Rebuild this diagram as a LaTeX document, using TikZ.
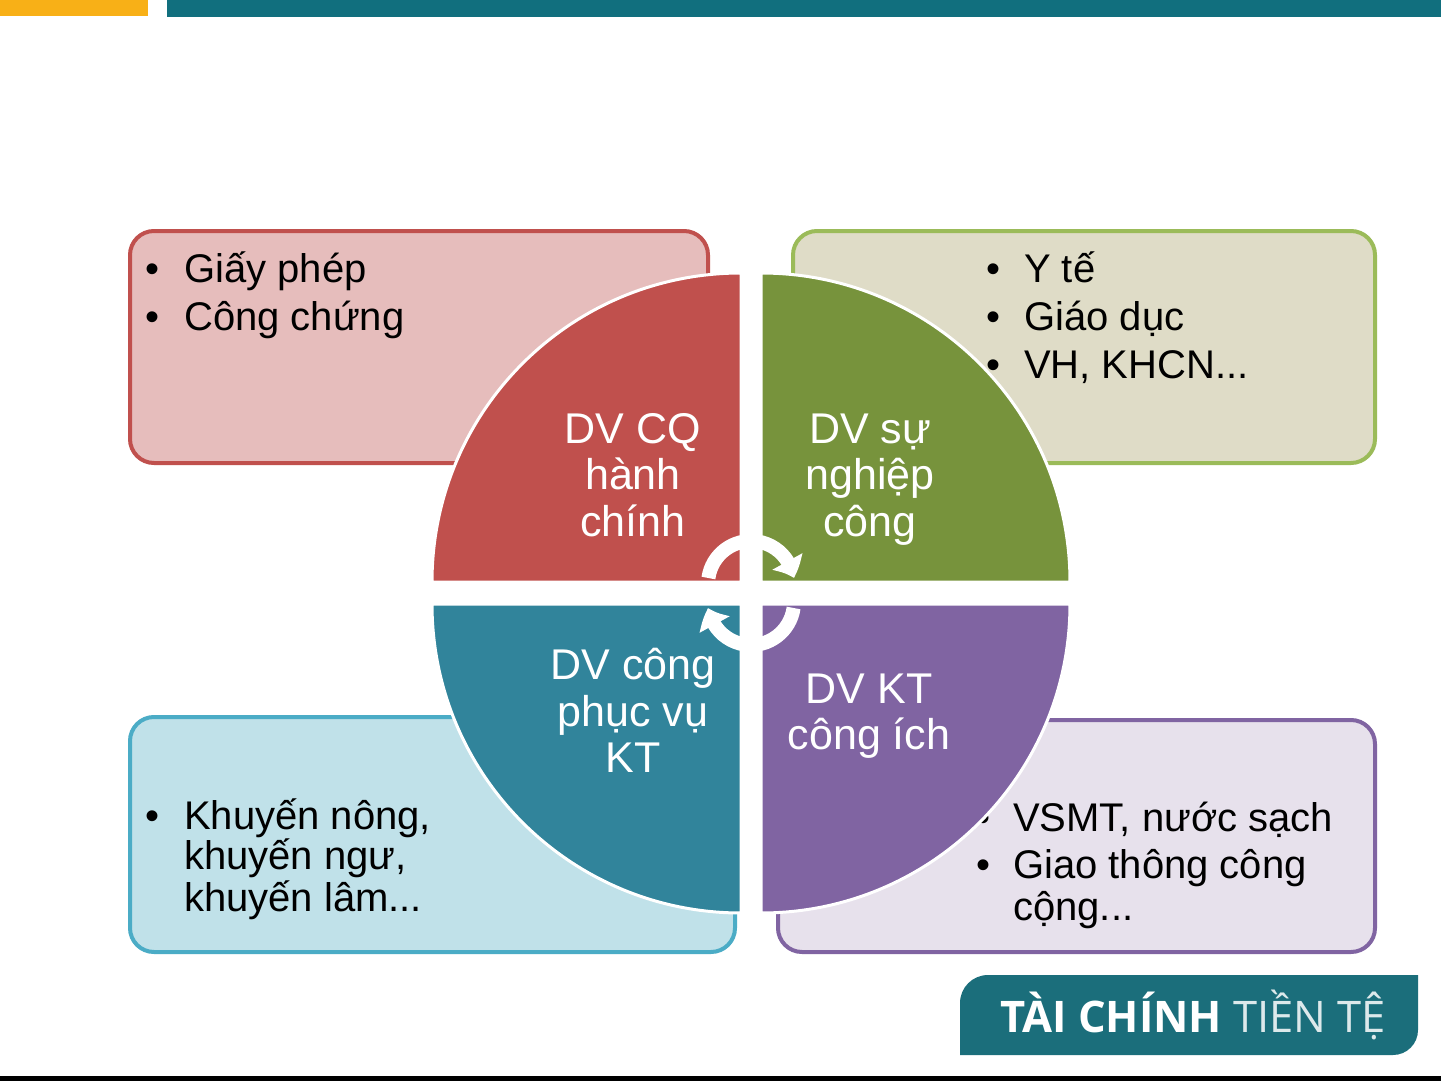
\documentclass[tikz,border=0pt]{standalone}
\usepackage{fontspec}
\setmainfont{Liberation Sans}
\newfontfamily\logofont{Open Sans}
\usetikzlibrary{arrows.meta,bending}
\definecolor{topor}{HTML}{F8B017}
\definecolor{topteal}{HTML}{116F7E}
\definecolor{logoteal}{HTML}{1B6E7B}
\definecolor{qred}{HTML}{C0504D}
\definecolor{qgreen}{HTML}{77933C}
\definecolor{qblue}{HTML}{31849B}
\definecolor{qpurple}{HTML}{8064A2}
\definecolor{fred}{HTML}{E6BDBC}
\definecolor{fgreen}{HTML}{DFDCC7}
\definecolor{fblue}{HTML}{C0E1E9}
\definecolor{fpurple}{HTML}{E7E1EC}
\definecolor{sgreen}{HTML}{9BBB59}
\definecolor{sblue}{HTML}{4BACC6}
\begin{document}
\begin{tikzpicture}[x=1pt,y=-1pt,
  boxstyle/.style={line width=4pt,rounded corners=24pt},
  quadstyle/.style={draw=white,line width=3pt},
  itemtext/.style={anchor=base west,inner sep=0pt,font=\fontsize{40}{48}\selectfont},
  quadtext/.style={anchor=base,text=white,inner sep=0pt,font=\fontsize{43}{47}\selectfont},
  cyclearrow/.style={draw=white,line width=14pt,-{Triangle[bend,length=18pt,width=33pt]}}]
\useasboundingbox (0,0) rectangle (1441,1081);
\fill[white] (0,0) rectangle (1441,1081);
% top bars and bottom line
\fill[topor] (0,0) rectangle (148,16);
\fill[topteal] (167,0) rectangle (1441,17);
\fill[black] (0,1076) rectangle (1441,1081);
% boxes
\path[boxstyle,draw=qred,fill=fred] (130,231) rectangle (708,463);
\path[boxstyle,draw=sgreen,fill=fgreen] (793,231) rectangle (1375,463);
\path[boxstyle,draw=sblue,fill=fblue] (130,717) rectangle (735,952);
\path[boxstyle,draw=qpurple,fill=fpurple] (778,720) rectangle (1375,952);
% box texts
\node[itemtext] (rb1) at (145,282) {•};
\node[itemtext] (rt1) at (184,282) {Giấy phép};
\node[itemtext] (rb2) at (145,330) {•};
\node[itemtext] (rt2) at (184,330) {Công chứng};
\node[itemtext] (gb1) at (986,282) {•};
\node[itemtext] (gt1) at (1024,282) {Y tế};
\node[itemtext] (gb2) at (986,330) {•};
\node[itemtext] (gt2) at (1024,330) {Giáo dục};
\node[itemtext] (gb3) at (986,378) {•};
\node[itemtext] (gt3) at (1024,378) {VH, KHCN...};
\node[itemtext] (bb1) at (145,829) {•};
\node[itemtext] (bt1) at (184,829) {Khuyến nông,};
\node[itemtext] (bt2) at (184,869) {khuyến ngư,};
\node[itemtext] (bt3) at (184,911) {khuyến lâm...};
\node[itemtext] (pb1) at (976,831) {•};
\node[itemtext] (pt1) at (1013,831) {VSMT, nước sạch};
\node[itemtext] (pb2) at (976,878) {•};
\node[itemtext] (pt2) at (1013,878) {Giao thông công};
\node[itemtext] (pt3) at (1013,920) {cộng...};
% quadrants
\path[quadstyle,fill=qred] (741,582) -- (432,582) arc (180:270:309) -- cycle;
\path[quadstyle,fill=qgreen] (761,582) -- (1070,582) arc (0:-90:309) -- cycle;
\path[quadstyle,fill=qblue] (741,604) -- (432,604) arc (180:90:309) -- cycle;
\path[quadstyle,fill=qpurple] (761,604) -- (1070,604) arc (0:90:309) -- cycle;
% quadrant labels
\node[quadtext] (q1a) at (633,443) {DV CQ};
\node[quadtext] (q1b) at (633,489) {hành};
\node[quadtext] (q1c) at (633,536) {chính};
\node[quadtext] (q2a) at (870,443) {DV sự};
\node[quadtext] (q2b) at (870,489) {nghiệp};
\node[quadtext] (q2c) at (870,536) {công};
\node[quadtext] (q3a) at (633,679) {DV công};
\node[quadtext] (q3b) at (633,726) {phục vụ};
\node[quadtext] (q3c) at (633,772) {KT};
\node[quadtext] (q4a) at (869,703) {DV KT};
\node[quadtext] (q4b) at (869,749) {công ích};
% cycle arrows
\coordinate (ca) at (751,584);
\coordinate (cb) at (751,602);
\draw[cyclearrow] ([shift={(188:43)}]ca) arc (188:352:43);
\draw[cyclearrow] ([shift={(8:43)}]cb) arc (8:172:43);
% logo
\fill[logoteal] (960,1055) -- (960,1003) arc (180:270:28) -- (1418,975) -- (1418,1030) arc (0:90:25) -- cycle;
\node[anchor=base west,inner sep=0pt,text=white,font=\logofont\fontsize{43.5}{44}\selectfont] (logo) at (1000,1032) {\textbf{TÀI CHÍNH} {\color{white!85!logoteal}TIỀN TỆ}};
\end{tikzpicture}
\end{document}
